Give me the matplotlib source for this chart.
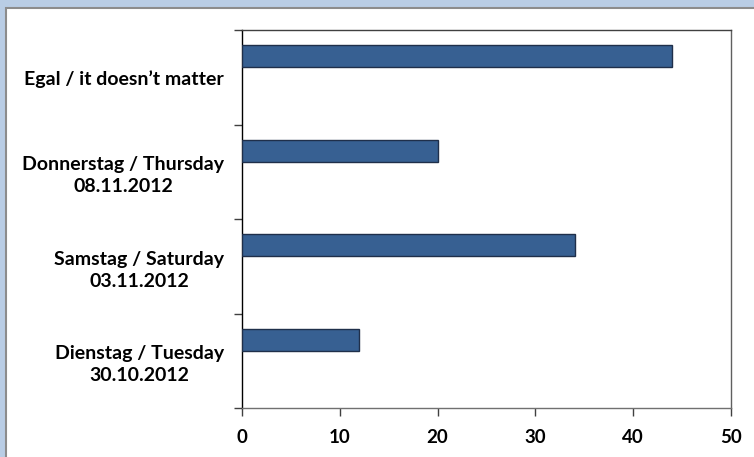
import matplotlib
matplotlib.use("Agg")
import matplotlib.pyplot as plt
from matplotlib.patches import Rectangle
import numpy as np

categories = ["Dienstag / Tuesday\n30.10.2012",
              "Samstag / Saturday\n03.11.2012",
              "Donnerstag / Thursday\n08.11.2012",
              "Egal / it doesn\u2019t matter"]
values = [12, 34, 20, 44]
xticks = [0, 10, 20, 30, 40, 50]

plt.rcParams['font.family'] = ['Lato', 'DejaVu Sans']

W, H = 754, 457
fig = plt.figure(figsize=(W / 100, H / 100), dpi=100)
fig.patch.set_facecolor('#b9cde5')

# white chart panel with grey top/left edge
fig.patches.append(Rectangle((6 / W, -0.01), 1.02, (H - 8) / H + 0.01,
                             transform=fig.transFigure, facecolor='white',
                             edgecolor='#8c8c8c', linewidth=1.5, zorder=-5))

ax = fig.add_axes([242 / W, 1 - 408 / H, (731 - 242) / W, (408 - 30) / H])
ax.set_zorder(2)
ax.set_facecolor('white')

y = np.arange(len(categories))
ax.barh(y + 0.22, values, height=0.233, color='#376092',
        edgecolor='#1f2f4a', linewidth=1.0, zorder=3)

ax.set_xlim(0, 50)
ax.set_ylim(-0.5, len(categories) - 0.5)
ax.set_xticks(xticks)
ax.set_xticklabels([str(v) for v in xticks], fontsize=13.5, fontweight='bold')

ax.set_yticks(np.arange(len(categories) + 1) - 0.5)
ax.set_yticklabels([])
ax.set_yticks(y, minor=True)
ax.set_yticklabels(categories, minor=True, fontsize=14, fontweight='bold')
for t in ax.get_yticklabels(minor=True):
    t.set_multialignment('center')
    t.set_linespacing(1.35)

ax.tick_params(axis='y', which='major', length=6, width=1, color='#404040', direction='out')
ax.tick_params(axis='y', which='minor', length=0, pad=13)
ax.tick_params(axis='x', which='major', length=6, width=1, color='#404040',
               direction='out', pad=9)

ax.spines['left'].set_color('black')
ax.spines['bottom'].set_color('#707070')
ax.spines['top'].set_color('#404040')
ax.spines['right'].set_color('#606060')
for s in ax.spines.values():
    s.set_linewidth(1.0)

fig.savefig('out.png', dpi=100, facecolor=fig.get_facecolor())
